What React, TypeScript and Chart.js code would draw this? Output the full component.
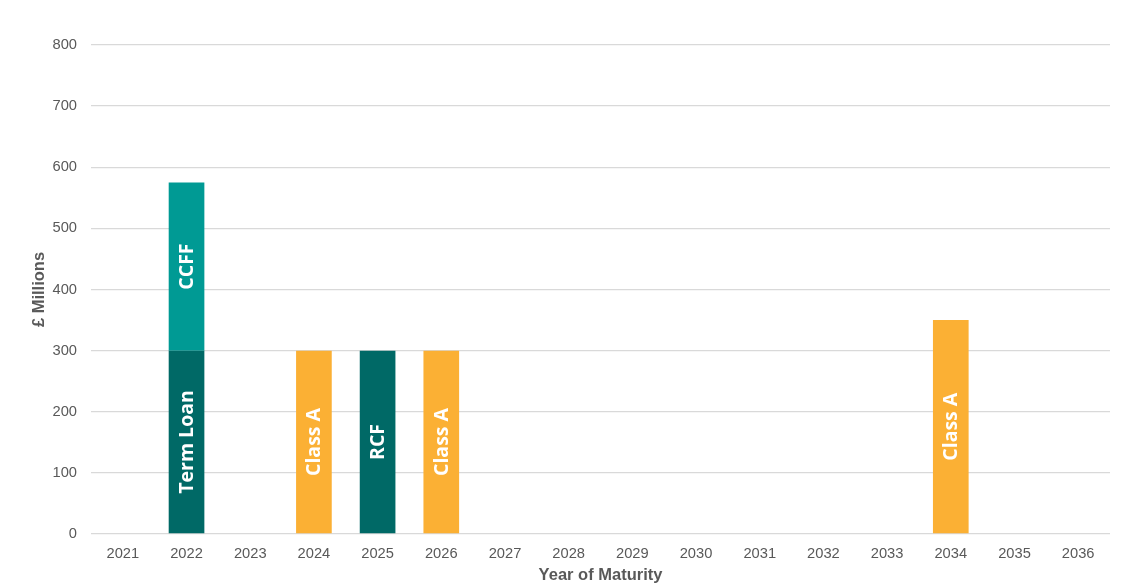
import React, { useEffect, useRef } from "react";
import { Chart, registerables } from "chart.js";

Chart.register(...registerables);

const years = ["2021", "2022", "2023", "2024", "2025", "2026", "2027", "2028", "2029", "2030", "2031", "2032", "2033", "2034", "2035", "2036"];
const termLoan = [null, 300, null, null, null, null, null, null, null, null, null, null, null, null, null, null];
const ccff = [null, 275, null, null, null, null, null, null, null, null, null, null, null, null, null, null];
const classA = [null, null, null, 300, null, 300, null, null, null, null, null, null, null, 350, null, null];
const rcf = [null, null, null, null, 300, null, null, null, null, null, null, null, null, null, null, null];
const yTicks = [0, 100, 200, 300, 400, 500, 600, 700, 800];

const barLabels = {
  id: "barLabels",
  afterDatasetsDraw(chart: any) {
    const ctx = chart.ctx;
    chart.data.datasets.forEach((ds: any, i: number) => {
      const meta = chart.getDatasetMeta(i);
      meta.data.forEach((bar: any, j: number) => {
        const v = ds.data[j];
        if (v == null) return;
        const props = bar.getProps(["x", "y", "base"], true);
        const cy = (props.y + props.base) / 2;
        ctx.save();
        ctx.translate(props.x, cy);
        ctx.rotate(-Math.PI / 2);
        ctx.fillStyle = "#ffffff";
        ctx.font = "bold 19.5px 'Open Sans'";
        ctx.textAlign = "center";
        ctx.textBaseline = "middle";
        ctx.fillText(ds.label, 0, 1);
        ctx.restore();
      });
    });
  },
};

export default function App() {
  const ref = useRef<HTMLCanvasElement>(null);
  useEffect(() => {
    document.body.style.margin = "0";
    const chart = new Chart(ref.current!, {
      type: "bar",
      data: {
        labels: years,
        datasets: [
          { label: "Term Loan", data: termLoan, backgroundColor: "#006966" },
          { label: "CCFF", data: ccff, backgroundColor: "#009A94" },
          { label: "Class A", data: classA, backgroundColor: "#FBB034" },
          { label: "RCF", data: rcf, backgroundColor: "#006966" },
        ],
      },
      options: {
        animation: false,
        responsive: false,
        maintainAspectRatio: false,
        layout: { padding: { top: 45, right: 20, left: 24, bottom: 0 } },
        plugins: { legend: { display: false }, tooltip: { enabled: false } },
        datasets: { bar: { barPercentage: 0.56, categoryPercentage: 1, skipNull: false } },
        scales: {
          x: {
            stacked: true,
            afterFit: (s: any) => {
              s.height = 49;
            },
            grid: { display: false },
            border: { display: false },
            ticks: { color: "#595959", font: { family: "Liberation Sans, Arial", size: 14.7 }, padding: 3, maxRotation: 0 },
            title: {
              display: true,
              text: "Year of Maturity",
              color: "#595959",
              font: { family: "Liberation Sans, Arial", size: 16.5, weight: "bold" },
              padding: { top: 2, bottom: -2 },
            },
          },
          y: {
            stacked: true,
            min: 0,
            max: 800,
            afterFit: (s: any) => {
              s.width = 67;
            },
            afterBuildTicks: (scale: any) => {
              scale.ticks = yTicks.map((v) => ({ value: v }));
            },
            grid: { color: "#d9d9d9", lineWidth: 1.3, drawTicks: false },
            border: { display: false },
            ticks: { color: "#595959", font: { family: "Liberation Sans, Arial", size: 14.7 }, padding: 14 },
            title: {
              display: true,
              text: "£ Millions",
              color: "#595959",
              font: { family: "Liberation Sans, Arial", size: 16.5, weight: "bold" },
              padding: { top: 6, bottom: 2 },
            },
          },
        },
      },
      plugins: [barLabels],
    });
    return () => chart.destroy();
  }, []);
  return (
    <div style={{ position: "absolute", left: 0, top: 0, width: 1130, height: 583 }}>
      <canvas ref={ref} width={1130} height={583} style={{ width: 1130, height: 583 }} />
    </div>
  );
}
